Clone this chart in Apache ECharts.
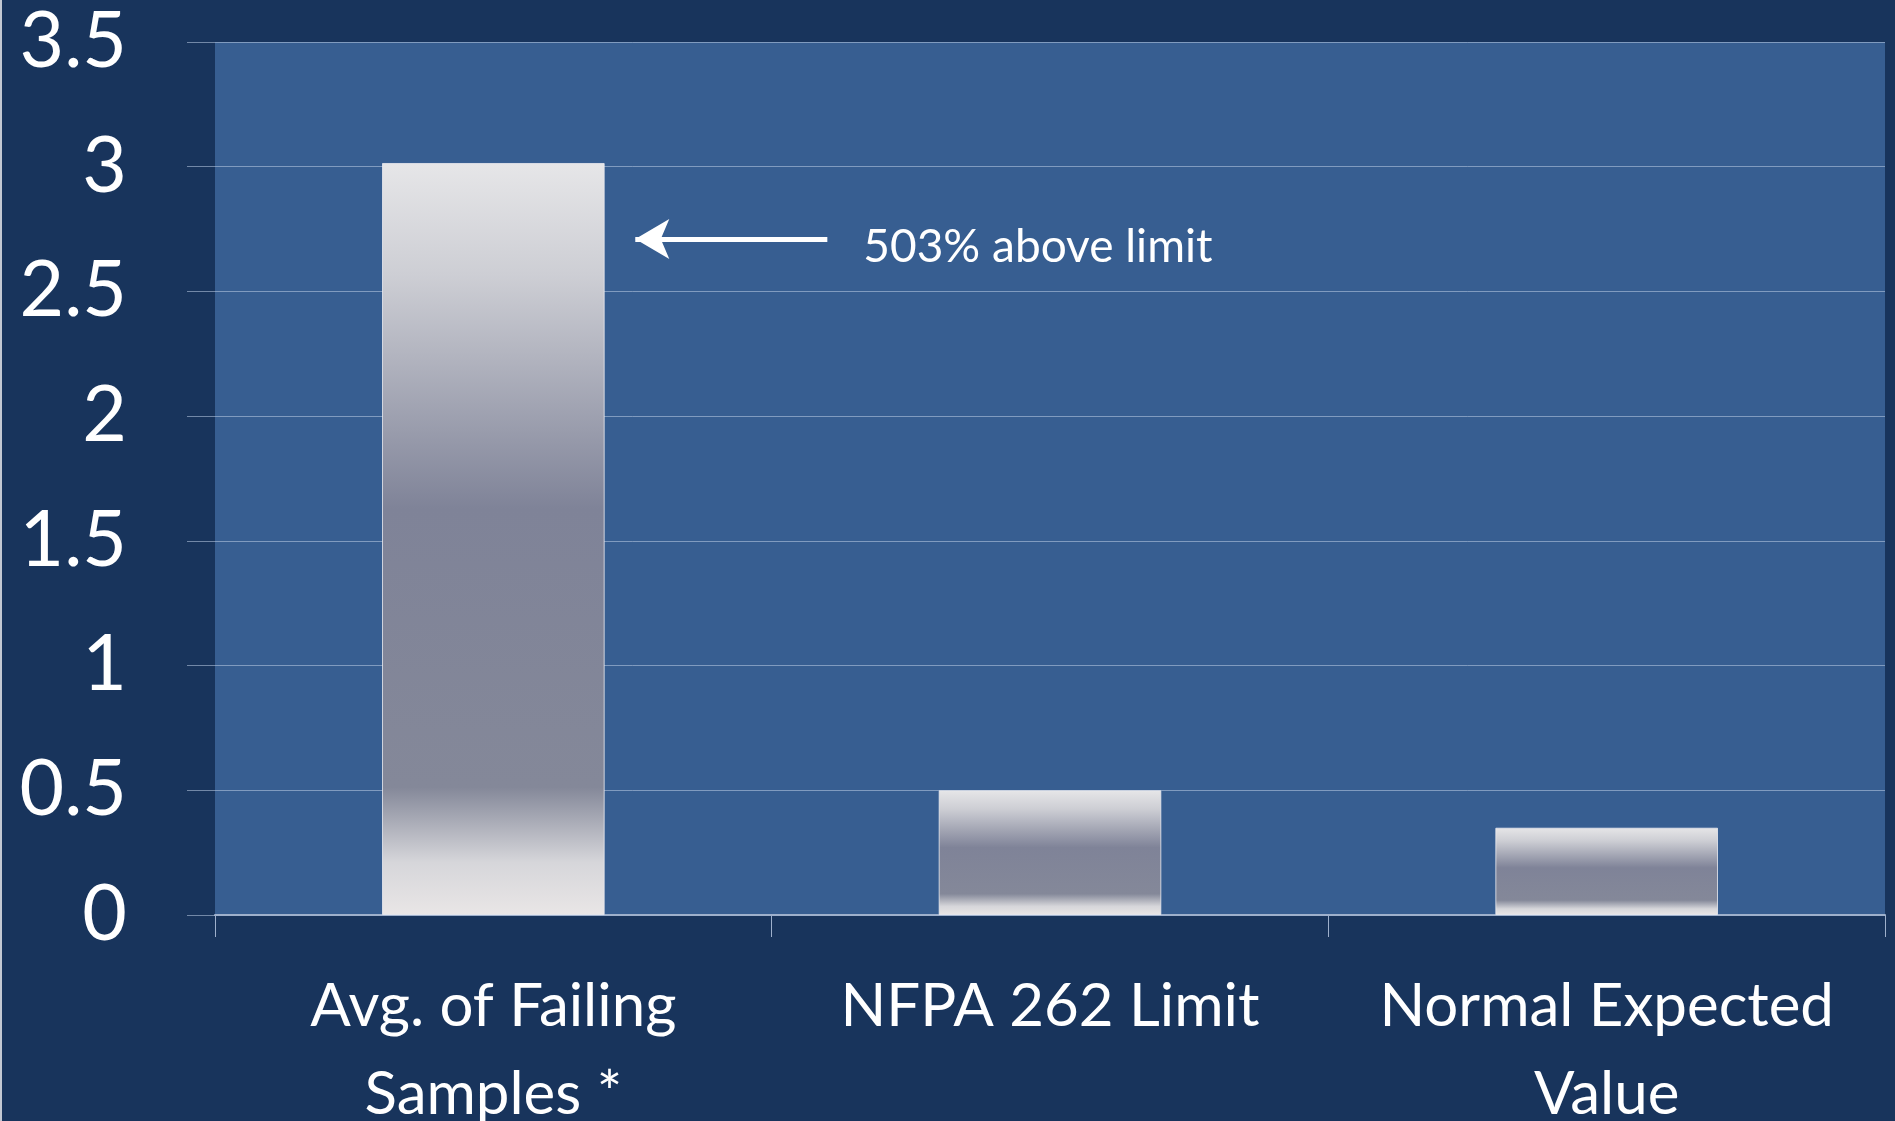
<!DOCTYPE html>
<html>
<head>
<meta charset="utf-8">
<script src="https://cdn.jsdelivr.net/npm/echarts@6/dist/echarts.min.js"></script>
<style>
  html, body { margin: 0; padding: 0; background: #18345c; }
  #chart { width: 1893px; height: 1121px; border-left: 2px solid #c3c8d2; }
</style>
</head>
<body>
<div id="chart"></div>
<script>
// values
const categories = ['Avg. of Failing\nSamples *', 'NFPA 262 Limit', 'Normal Expected\nValue'];
const values = [3.015, 0.5, 0.35];
const yMin = 0;
const yMax = 3.5;
const yStep = 0.5;

// annotation, in data units (x runs 0..3 across the three categories)
const noteText = '503% above limit';
const noteY = 2.71;
const noteX = [0.755, 1.1];

const FONT = 'Lato, "Open Sans", sans-serif';
const GRID_LINE = 'rgba(190,205,230,0.55)';

const chart = echarts.init(document.getElementById('chart'));

chart.setOption({
  animation: false,
  backgroundColor: '#18345c',
  grid: {
    left: 213, right: 10, top: 42, bottom: 206,
    containLabel: false, outerBoundsMode: 'none',
    show: true, backgroundColor: '#375e91', borderWidth: 0,
  },
  xAxis: [
    {
      type: 'category',
      data: categories,
      axisLine: { show: true, lineStyle: { color: '#9eb0cc', width: 2 } },
      axisTick: { show: true, length: 22, alignWithLabel: false, lineStyle: { color: '#9eb0cc', width: 1 } },
      axisLabel: {
        color: '#ffffff', fontFamily: FONT, fontSize: 60, lineHeight: 88,
        margin: 48, interval: 0,
      },
      splitLine: { show: false },
    },
    { type: 'value', min: 0, max: 3, show: false },
  ],
  yAxis: {
    type: 'value',
    min: yMin,
    max: yMax,
    interval: yStep,
    axisLine: { show: false },
    axisTick: { show: true, length: 28, lineStyle: { color: GRID_LINE, width: 1 } },
    axisLabel: {
      color: '#ffffff', fontFamily: FONT, fontSize: 77, margin: 88,
    },
    splitLine: { show: true, lineStyle: { color: GRID_LINE, width: 1 } },
  },
  series: [
    {
      type: 'bar',
      data: values,
      barWidth: '40%',
      itemStyle: {
        borderColor: 'rgba(235,235,240,0.8)',
        borderWidth: 1,
        color: {
          type: 'linear', x: 0, y: 0, x2: 0, y2: 1,
          colorStops: [
            { offset: 0, color: '#e6e6e8' },
            { offset: 0.15, color: '#cdced4' },
            { offset: 0.46, color: '#7f8398' },
            { offset: 0.83, color: '#848899' },
            { offset: 0.93, color: '#d6d6da' },
            { offset: 1, color: '#e9e6e6' },
          ],
        },
      },
    },
    {
      type: 'line',
      xAxisIndex: 1,
      data: [],
      markLine: {
        silent: true,
        symbol: ['arrow', 'none'],
        symbolSize: [30, 34],
        lineStyle: { color: '#ffffff', width: 5, type: 'solid' },
        label: {
          show: true, position: 'end', distance: 36,
          formatter: '{t|' + noteText + '}',
          rich: {
            t: {
              color: '#ffffff', fontFamily: FONT, fontSize: 46,
              padding: [16, 0, 0, 0],
            },
          },
        },
        data: [[{ coord: [noteX[0], noteY] }, { coord: [noteX[1], noteY] }]],
      },
    },
  ],
});
</script>
</body>
</html>
